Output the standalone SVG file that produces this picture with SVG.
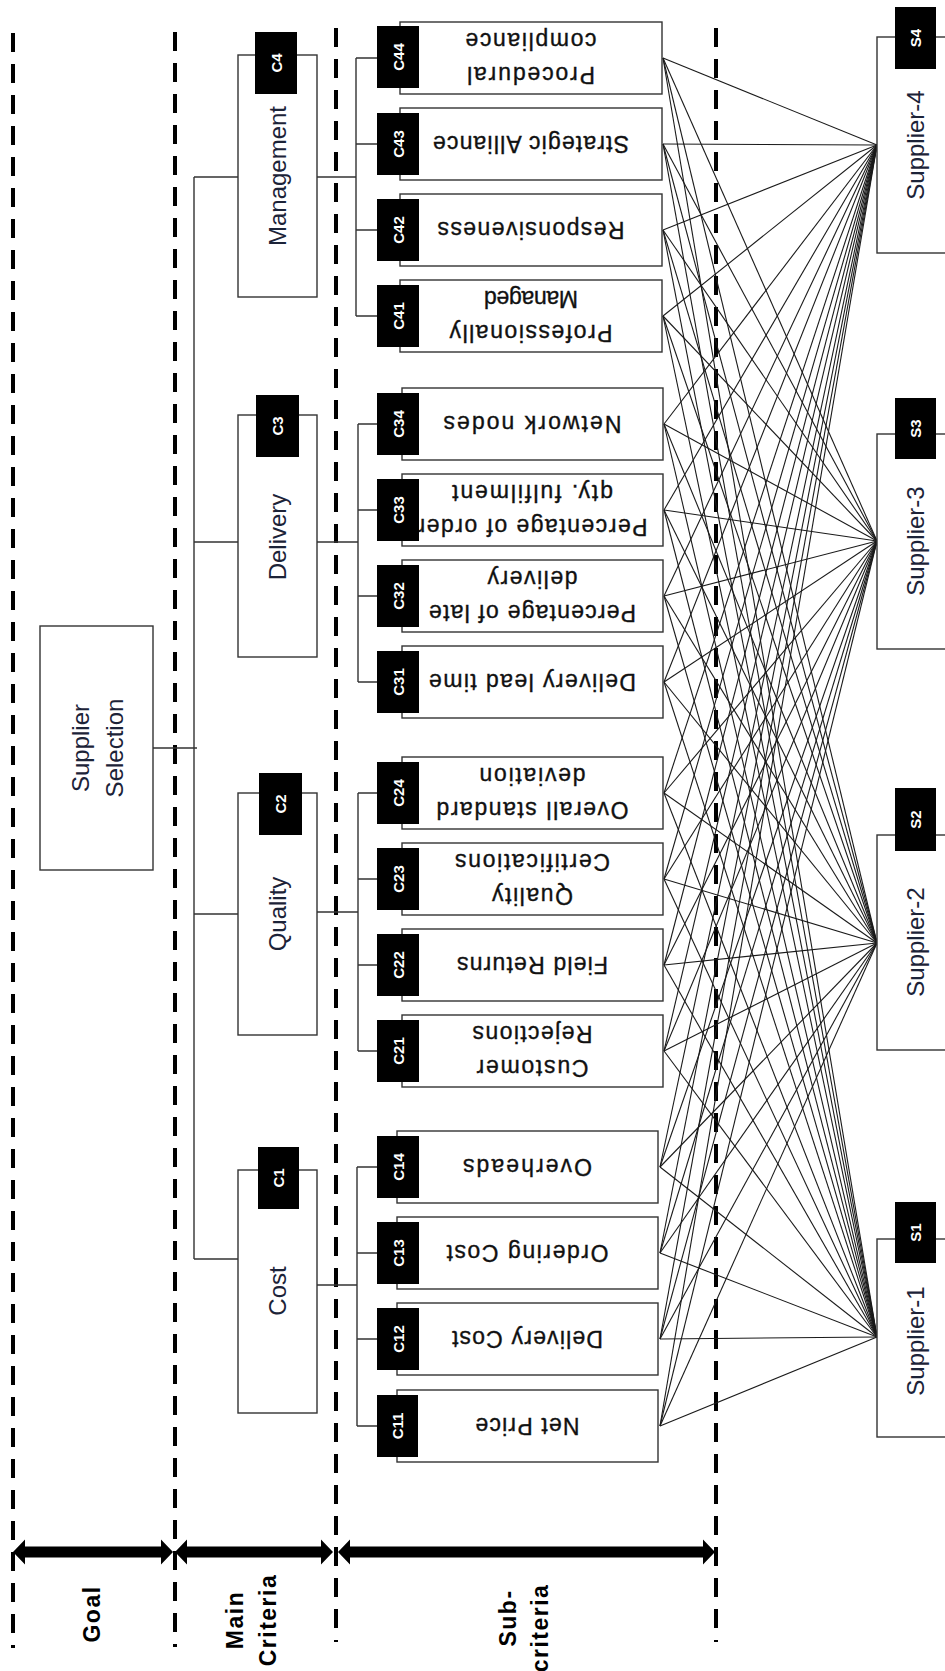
<svg xmlns="http://www.w3.org/2000/svg" width="945" height="1671" viewBox="0 0 945 1671">
<style>
  text{font-family:"Liberation Sans",Arial,sans-serif;text-anchor:middle;dominant-baseline:central}
  .box{fill:#fff;stroke:#333;stroke-width:1.4}
  .tag{fill:#000}
  .mt{font-size:24px;fill:#1c2338}
  .st{font-size:23px;fill:#111;stroke:#111;stroke-width:0.35}
  .lb{font-size:15px;font-weight:bold;fill:#fff}
  .hd{font-size:23px;font-weight:bold;fill:#000;letter-spacing:1.5px}
  .con{stroke:#333;stroke-width:1.4;fill:none}
  .ln{stroke:#1a1a1a;stroke-width:1.1}
  .dash{stroke:#000;stroke-width:4;stroke-dasharray:19 12;fill:none}
  .arr{fill:#000}
</style>

<g id="guides">
  <line class="dash" x1="13" y1="33" x2="13" y2="1648"/>
  <line class="dash" x1="175" y1="32" x2="175" y2="1647"/>
  <line class="dash" x1="336" y1="28" x2="336" y2="1642"/>
  <line class="dash" x1="716" y1="28" x2="716" y2="1642"/>
  <polygon class="arr" points="13,1552 25,1539.5 25,1546.5 161,1546.5 161,1539.5 173,1552 161,1564.5 161,1557.5 25,1557.5 25,1564.5"/>
  <polygon class="arr" points="175,1552 187,1539.5 187,1546.5 321,1546.5 321,1539.5 333,1552 321,1564.5 321,1557.5 187,1557.5 187,1564.5"/>
  <polygon class="arr" points="338,1552 350,1539.5 350,1546.5 703,1546.5 703,1539.5 715,1552 703,1564.5 703,1557.5 350,1557.5 350,1564.5"/>
  <text class="hd" transform="rotate(-90 92 1614)" x="92" y="1614">Goal</text>
  <text class="hd" transform="rotate(-90 235 1620)" x="235" y="1620">Main</text>
  <text class="hd" transform="rotate(-90 268 1620)" x="268" y="1620">Criteria</text>
  <text class="hd" transform="rotate(-90 508 1618)" x="508" y="1618">Sub-</text>
  <text class="hd" transform="rotate(-90 540 1628)" x="540" y="1628">criteria</text>
</g>

<g id="connectors">
  <path class="con" d="M194 177 V1259 M194 177 H238 M194 542 H238 M194 914 H238 M194 1259 H238 M153 748 H197"/>
  <path class="con" d="M317 177 H356 M356 58 V316 M356 58 H377 M356 144 H377 M356 230 H377 M356 316 H377"/>
  <path class="con" d="M317 542 H358 M358 424 V682 M358 424 H377 M358 510 H377 M358 596 H377 M358 682 H377"/>
  <path class="con" d="M317 912 H358 M358 793 V1051 M358 793 H377 M358 879 H377 M358 965 H377 M358 1051 H377"/>
  <path class="con" d="M317 1285 H357 M357 1167 V1426 M357 1167 H377 M357 1253 H377 M357 1339 H377 M357 1426 H377"/>
  <g id="supplier-links">
    <line class="ln" x1="663" y1="58" x2="877" y2="145"/><line class="ln" x1="663" y1="58" x2="877" y2="541"/><line class="ln" x1="663" y1="58" x2="877" y2="943"/><line class="ln" x1="663" y1="58" x2="877" y2="1337"/>
    <line class="ln" x1="663" y1="144" x2="877" y2="145"/><line class="ln" x1="663" y1="144" x2="877" y2="541"/><line class="ln" x1="663" y1="144" x2="877" y2="943"/><line class="ln" x1="663" y1="144" x2="877" y2="1337"/>
    <line class="ln" x1="663" y1="230" x2="877" y2="145"/><line class="ln" x1="663" y1="230" x2="877" y2="541"/><line class="ln" x1="663" y1="230" x2="877" y2="943"/><line class="ln" x1="663" y1="230" x2="877" y2="1337"/>
    <line class="ln" x1="663" y1="316" x2="877" y2="145"/><line class="ln" x1="663" y1="316" x2="877" y2="541"/><line class="ln" x1="663" y1="316" x2="877" y2="943"/><line class="ln" x1="663" y1="316" x2="877" y2="1337"/>
    <line class="ln" x1="664" y1="424" x2="877" y2="145"/><line class="ln" x1="664" y1="424" x2="877" y2="541"/><line class="ln" x1="664" y1="424" x2="877" y2="943"/><line class="ln" x1="664" y1="424" x2="877" y2="1337"/>
    <line class="ln" x1="664" y1="510" x2="877" y2="145"/><line class="ln" x1="664" y1="510" x2="877" y2="541"/><line class="ln" x1="664" y1="510" x2="877" y2="943"/><line class="ln" x1="664" y1="510" x2="877" y2="1337"/>
    <line class="ln" x1="664" y1="596" x2="877" y2="145"/><line class="ln" x1="664" y1="596" x2="877" y2="541"/><line class="ln" x1="664" y1="596" x2="877" y2="943"/><line class="ln" x1="664" y1="596" x2="877" y2="1337"/>
    <line class="ln" x1="664" y1="682" x2="877" y2="145"/><line class="ln" x1="664" y1="682" x2="877" y2="541"/><line class="ln" x1="664" y1="682" x2="877" y2="943"/><line class="ln" x1="664" y1="682" x2="877" y2="1337"/>
    <line class="ln" x1="664" y1="793" x2="877" y2="145"/><line class="ln" x1="664" y1="793" x2="877" y2="541"/><line class="ln" x1="664" y1="793" x2="877" y2="943"/><line class="ln" x1="664" y1="793" x2="877" y2="1337"/>
    <line class="ln" x1="664" y1="879" x2="877" y2="145"/><line class="ln" x1="664" y1="879" x2="877" y2="541"/><line class="ln" x1="664" y1="879" x2="877" y2="943"/><line class="ln" x1="664" y1="879" x2="877" y2="1337"/>
    <line class="ln" x1="664" y1="965" x2="877" y2="145"/><line class="ln" x1="664" y1="965" x2="877" y2="541"/><line class="ln" x1="664" y1="965" x2="877" y2="943"/><line class="ln" x1="664" y1="965" x2="877" y2="1337"/>
    <line class="ln" x1="664" y1="1051" x2="877" y2="145"/><line class="ln" x1="664" y1="1051" x2="877" y2="541"/><line class="ln" x1="664" y1="1051" x2="877" y2="943"/><line class="ln" x1="664" y1="1051" x2="877" y2="1337"/>
    <line class="ln" x1="660" y1="1167" x2="877" y2="145"/><line class="ln" x1="660" y1="1167" x2="877" y2="541"/><line class="ln" x1="660" y1="1167" x2="877" y2="943"/><line class="ln" x1="660" y1="1167" x2="877" y2="1337"/>
    <line class="ln" x1="660" y1="1253" x2="877" y2="145"/><line class="ln" x1="660" y1="1253" x2="877" y2="541"/><line class="ln" x1="660" y1="1253" x2="877" y2="943"/><line class="ln" x1="660" y1="1253" x2="877" y2="1337"/>
    <line class="ln" x1="660" y1="1339" x2="877" y2="145"/><line class="ln" x1="660" y1="1339" x2="877" y2="541"/><line class="ln" x1="660" y1="1339" x2="877" y2="943"/><line class="ln" x1="660" y1="1339" x2="877" y2="1337"/>
    <line class="ln" x1="660" y1="1426" x2="877" y2="145"/><line class="ln" x1="660" y1="1426" x2="877" y2="541"/><line class="ln" x1="660" y1="1426" x2="877" y2="943"/><line class="ln" x1="660" y1="1426" x2="877" y2="1337"/>
  </g>
</g>

<g id="goal">
  <rect class="box" x="40" y="626" width="113" height="244"/>
  <text class="mt" transform="rotate(-90 80 748)" x="80" y="748">Supplier</text>
  <text class="mt" transform="rotate(-90 114 748)" x="114" y="748">Selection</text>
</g>

<g id="C4">
  <rect class="box" x="238" y="55" width="79" height="242"/>
  <text class="mt" transform="rotate(-90 277.5 176)" x="277.5" y="176">Management</text>
  <rect class="tag" x="255" y="32" width="42" height="62"/>
  <text class="lb" transform="rotate(-90 276 63)" x="276" y="63">C4</text>
</g>
<g id="C3">
  <rect class="box" x="238" y="415" width="79" height="242"/>
  <text class="mt" transform="rotate(-90 277.5 537)" x="277.5" y="537">Delivery</text>
  <rect class="tag" x="256" y="395" width="43" height="62"/>
  <text class="lb" transform="rotate(-90 277.5 426)" x="277.5" y="426">C3</text>
</g>
<g id="C2">
  <rect class="box" x="238" y="793" width="79" height="242"/>
  <text class="mt" transform="rotate(-90 277.5 914)" x="277.5" y="914">Quality</text>
  <rect class="tag" x="259" y="773" width="43" height="62"/>
  <text class="lb" transform="rotate(-90 280.5 804)" x="280.5" y="804">C2</text>
</g>
<g id="C1">
  <rect class="box" x="238" y="1170" width="79" height="243"/>
  <text class="mt" transform="rotate(-90 277.5 1291)" x="277.5" y="1291">Cost</text>
  <rect class="tag" x="258" y="1147" width="41" height="62"/>
  <text class="lb" transform="rotate(-90 278.5 1178)" x="278.5" y="1178">C1</text>
</g>

<g id="C44">
  <rect class="box" x="400" y="22" width="262" height="72"/>
  <g transform="rotate(180 531 58)">
    <text class="st" x="531" y="41" textLength="128" lengthAdjust="spacing">Procedural</text>
    <text class="st" x="531" y="75" textLength="131" lengthAdjust="spacing">compliance</text>
  </g>
  <rect class="tag" x="377" y="26" width="42" height="62"/>
  <text class="lb" transform="rotate(-90 398 57)" x="398" y="57">C44</text>
</g>
<g id="C43">
  <rect class="box" x="400" y="108" width="262" height="72"/>
  <text class="st" transform="rotate(180 531 144)" x="531" y="144" textLength="196" lengthAdjust="spacing">Strategic Alliance</text>
  <rect class="tag" x="377" y="113" width="42" height="62"/>
  <text class="lb" transform="rotate(-90 398 144)" x="398" y="144">C43</text>
</g>
<g id="C42">
  <rect class="box" x="400" y="194" width="262" height="72"/>
  <text class="st" transform="rotate(180 531 230)" x="531" y="230" textLength="187" lengthAdjust="spacing">Responsiveness</text>
  <rect class="tag" x="377" y="199" width="42" height="62"/>
  <text class="lb" transform="rotate(-90 398 230)" x="398" y="230">C42</text>
</g>
<g id="C41">
  <rect class="box" x="400" y="280" width="262" height="72"/>
  <g transform="rotate(180 531 316)">
    <text class="st" x="531" y="299" textLength="163" lengthAdjust="spacing">Professionally</text>
    <text class="st" x="531" y="333" textLength="94" lengthAdjust="spacing">Managed</text>
  </g>
  <rect class="tag" x="377" y="285" width="42" height="62"/>
  <text class="lb" transform="rotate(-90 398 316)" x="398" y="316">C41</text>
</g>

<g id="C34">
  <rect class="box" x="402" y="388" width="261" height="72"/>
  <text class="st" transform="rotate(180 532.5 424)" x="532.5" y="424" textLength="178" lengthAdjust="spacing">Network nodes</text>
  <rect class="tag" x="377" y="393" width="42" height="62"/>
  <text class="lb" transform="rotate(-90 398 424)" x="398" y="424">C34</text>
</g>
<g id="C33">
  <rect class="box" x="402" y="474" width="261" height="72"/>
  <g transform="rotate(180 532.5 510)">
    <text class="st" x="532.5" y="493" textLength="230" lengthAdjust="spacing">Percentage of order</text>
    <text class="st" x="532.5" y="527" textLength="161" lengthAdjust="spacing">qty. fulfilment</text>
  </g>
  <rect class="tag" x="377" y="479" width="42" height="62"/>
  <text class="lb" transform="rotate(-90 398 510)" x="398" y="510">C33</text>
</g>
<g id="C32">
  <rect class="box" x="402" y="560" width="261" height="72"/>
  <g transform="rotate(180 532.5 596)">
    <text class="st" x="532.5" y="579" textLength="207" lengthAdjust="spacing">Percentage of late</text>
    <text class="st" x="532.5" y="613" textLength="90" lengthAdjust="spacing">delivery</text>
  </g>
  <rect class="tag" x="377" y="565" width="42" height="62"/>
  <text class="lb" transform="rotate(-90 398 596)" x="398" y="596">C32</text>
</g>
<g id="C31">
  <rect class="box" x="402" y="646" width="261" height="72"/>
  <text class="st" transform="rotate(180 532.5 682)" x="532.5" y="682" textLength="207" lengthAdjust="spacing">Delivery lead time</text>
  <rect class="tag" x="377" y="651" width="42" height="62"/>
  <text class="lb" transform="rotate(-90 398 682)" x="398" y="682">C31</text>
</g>

<g id="C24">
  <rect class="box" x="402" y="757" width="261" height="72"/>
  <g transform="rotate(180 532.5 793)">
    <text class="st" x="532.5" y="776" textLength="192" lengthAdjust="spacing">Overall standard</text>
    <text class="st" x="532.5" y="810" textLength="106" lengthAdjust="spacing">deviation</text>
  </g>
  <rect class="tag" x="377" y="762" width="42" height="62"/>
  <text class="lb" transform="rotate(-90 398 793)" x="398" y="793">C24</text>
</g>
<g id="C23">
  <rect class="box" x="402" y="843" width="261" height="72"/>
  <g transform="rotate(180 532.5 879)">
    <text class="st" x="532.5" y="862" textLength="81" lengthAdjust="spacing">Quality</text>
    <text class="st" x="532.5" y="896" textLength="155" lengthAdjust="spacing">Certifications</text>
  </g>
  <rect class="tag" x="377" y="848" width="42" height="62"/>
  <text class="lb" transform="rotate(-90 398 879)" x="398" y="879">C23</text>
</g>
<g id="C22">
  <rect class="box" x="402" y="929" width="261" height="72"/>
  <text class="st" transform="rotate(180 532.5 965)" x="532.5" y="965" textLength="151" lengthAdjust="spacing">Field Returns</text>
  <rect class="tag" x="377" y="934" width="42" height="62"/>
  <text class="lb" transform="rotate(-90 398 965)" x="398" y="965">C22</text>
</g>
<g id="C21">
  <rect class="box" x="402" y="1015" width="261" height="72"/>
  <g transform="rotate(180 532.5 1051)">
    <text class="st" x="532.5" y="1034" textLength="112" lengthAdjust="spacing">Customer</text>
    <text class="st" x="532.5" y="1068" textLength="120" lengthAdjust="spacing">Rejections</text>
  </g>
  <rect class="tag" x="377" y="1020" width="42" height="62"/>
  <text class="lb" transform="rotate(-90 398 1051)" x="398" y="1051">C21</text>
</g>

<g id="C14">
  <rect class="box" x="397" y="1131" width="261" height="72"/>
  <text class="st" transform="rotate(180 527.5 1167)" x="527.5" y="1167" textLength="129" lengthAdjust="spacing">Overheads</text>
  <rect class="tag" x="377" y="1136" width="42" height="62"/>
  <text class="lb" transform="rotate(-90 398 1167)" x="398" y="1167">C14</text>
</g>
<g id="C13">
  <rect class="box" x="397" y="1217" width="261" height="72"/>
  <text class="st" transform="rotate(180 527.5 1253)" x="527.5" y="1253" textLength="162" lengthAdjust="spacing">Ordering Cost</text>
  <rect class="tag" x="377" y="1222" width="42" height="62"/>
  <text class="lb" transform="rotate(-90 398 1253)" x="398" y="1253">C13</text>
</g>
<g id="C12">
  <rect class="box" x="397" y="1303" width="261" height="72"/>
  <text class="st" transform="rotate(180 527.5 1339)" x="527.5" y="1339" textLength="151" lengthAdjust="spacing">Delivery Cost</text>
  <rect class="tag" x="377" y="1308" width="42" height="62"/>
  <text class="lb" transform="rotate(-90 398 1339)" x="398" y="1339">C12</text>
</g>
<g id="C11">
  <rect class="box" x="397" y="1390" width="261" height="72"/>
  <text class="st" transform="rotate(180 527.5 1426)" x="527.5" y="1426" textLength="104" lengthAdjust="spacing">Net Price</text>
  <rect class="tag" x="377" y="1395" width="41" height="62"/>
  <text class="lb" transform="rotate(-90 397.5 1426)" x="397.5" y="1426">C11</text>
</g>

<g id="S4">
  <rect class="box" x="877" y="37" width="100" height="216"/>
  <text class="mt" transform="rotate(-90 915 145)" x="915" y="145">Supplier-4</text>
  <rect class="tag" x="895" y="7" width="41" height="62"/>
  <text class="lb" transform="rotate(-90 915.5 38)" x="915.5" y="38">S4</text>
</g>
<g id="S3">
  <rect class="box" x="877" y="434" width="100" height="215"/>
  <text class="mt" transform="rotate(-90 915 541)" x="915" y="541">Supplier-3</text>
  <rect class="tag" x="895" y="398" width="41" height="61"/>
  <text class="lb" transform="rotate(-90 915.5 428.5)" x="915.5" y="428.5">S3</text>
</g>
<g id="S2">
  <rect class="box" x="877" y="835" width="100" height="215"/>
  <text class="mt" transform="rotate(-90 915 942)" x="915" y="942">Supplier-2</text>
  <rect class="tag" x="895" y="788" width="41" height="63"/>
  <text class="lb" transform="rotate(-90 915.5 819.5)" x="915.5" y="819.5">S2</text>
</g>
<g id="S1">
  <rect class="box" x="877" y="1239" width="100" height="198"/>
  <text class="mt" transform="rotate(-90 915 1341)" x="915" y="1341">Supplier-1</text>
  <rect class="tag" x="895" y="1202" width="41" height="61"/>
  <text class="lb" transform="rotate(-90 915.5 1232.5)" x="915.5" y="1232.5">S1</text>
</g>
</svg>
